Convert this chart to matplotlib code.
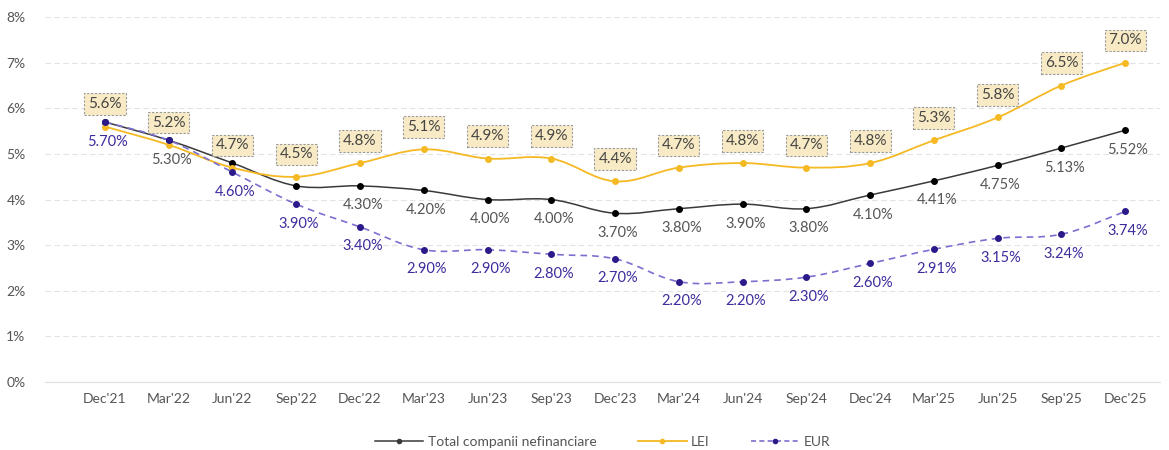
import matplotlib
matplotlib.use("Agg")
import matplotlib.pyplot as plt
from matplotlib.path import Path
from matplotlib.patches import PathPatch
import numpy as np

plt.rcParams["font.family"] = ["Lato", "DejaVu Sans"]

# data
periods = ["Dec'21", "Mar'22", "Jun'22", "Sep'22", "Dec'22", "Mar'23", "Jun'23", "Sep'23",
           "Dec'23", "Mar'24", "Jun'24", "Sep'24", "Dec'24", "Mar'25", "Jun'25", "Sep'25", "Dec'25"]
total = [5.70, 5.30, 4.80, 4.30, 4.30, 4.20, 4.00, 4.00, 3.70, 3.80, 3.90, 3.80, 4.10, 4.41, 4.75, 5.13, 5.52]
lei = [5.6, 5.2, 4.7, 4.5, 4.8, 5.1, 4.9, 4.9, 4.4, 4.7, 4.8, 4.7, 4.8, 5.3, 5.8, 6.5, 7.0]
eur = [5.70, 5.30, 4.60, 3.90, 3.40, 2.90, 2.90, 2.80, 2.70, 2.20, 2.20, 2.30, 2.60, 2.91, 3.15, 3.24, 3.74]
# which labels are visible in the reference
total_shown = [False, True, False, False] + [True] * 13
eur_shown = [True, False] + [True] * 15

C_TOTAL = "#3a3a3a"
C_LEI = "#f5b924"
C_EUR_LINE = "#7b6fd0"
C_EUR = "#2a1a8a"
TXT = "#555555"


def smooth_path(x, y, t=0.18):
    # catmull-rom style bezier through the data points (drawing only)
    x = np.asarray(x, float)
    y = np.asarray(y, float)
    verts = [(x[0], y[0])]
    codes = [Path.MOVETO]
    n = len(x)
    for i in range(n - 1):
        p0 = i - 1 if i > 0 else i
        p3 = i + 2 if i + 2 < n else i + 1
        c1 = (x[i] + (x[i + 1] - x[p0]) * t, y[i] + (y[i + 1] - y[p0]) * t)
        c2 = (x[i + 1] - (x[p3] - x[i]) * t, y[i + 1] - (y[p3] - y[i]) * t)
        verts += [c1, c2, (x[i + 1], y[i + 1])]
        codes += [Path.CURVE4] * 3
    return Path(verts, codes)


fig = plt.figure(figsize=(11.69, 4.5), dpi=100)
ax = fig.add_axes([0.0385, 0.151, 0.954, 0.811])

xs = np.arange(len(periods))

ax.add_patch(PathPatch(smooth_path(xs, total), fill=False, ec=C_TOTAL, lw=1.1, zorder=3))
ax.add_patch(PathPatch(smooth_path(xs, lei), fill=False, ec=C_LEI, lw=1.3, zorder=3))
ax.add_patch(PathPatch(smooth_path(xs, eur), fill=False, ec=C_EUR_LINE, lw=1.2,
                       ls=(0, (4, 3)), zorder=3))
ax.plot(xs, total, ls="none", marker="o", ms=4, color="black", zorder=4)
ax.plot(xs, lei, ls="none", marker="o", ms=4, color=C_LEI, zorder=4)
ax.plot(xs, eur, ls="none", marker="o", ms=4, color=C_EUR, zorder=4)

# legend handles
ax.plot([], [], color=C_TOTAL, marker="o", ms=3, lw=1.1, label="Total companii nefinanciare")
ax.plot([], [], color=C_LEI, marker="o", ms=3, lw=1.3, label="LEI")
ax.plot([], [], color=C_EUR_LINE, marker="o", ms=3, mfc=C_EUR, mec=C_EUR, lw=1.2,
        ls=(0, (3, 2)), label="EUR")

for i in xs:
    ax.annotate(f"{lei[i]:.1f}%", (i, lei[i]), xytext=(0, 11), textcoords="offset points",
                ha="center", va="bottom", fontsize=11, color="#444444",
                bbox=dict(boxstyle="square,pad=0.25", fc="#f8eac4", ec="#999999",
                          ls=(0, (2, 1.5)), lw=0.8), zorder=5)
    if total_shown[i]:
        ax.annotate(f"{total[i]:.2f}%", (i, total[i]), xytext=(2, -9), textcoords="offset points",
                    ha="center", va="top", fontsize=10.5, color=TXT, zorder=5)
    if eur_shown[i]:
        ax.annotate(f"{eur[i]:.2f}%", (i, eur[i]), xytext=(2, -9), textcoords="offset points",
                    ha="center", va="top", fontsize=10.5, color="#3b2c9c", zorder=5)

ax.set_xlim(-0.94, 16.55)
ax.set_ylim(0, 8)
ax.set_yticks(range(0, 9))
ax.set_yticklabels([f"{v}%" for v in range(0, 9)])
ax.set_xticks(xs)
ax.set_xticklabels(periods)
ax.tick_params(length=0, labelsize=10, colors=TXT, pad=8)
ax.tick_params(axis="y", pad=14)
ax.grid(axis="y", color="#e3e3e3", ls=(0, (5, 3)), lw=0.8)
for s in ax.spines.values():
    s.set_visible(False)
ax.spines["bottom"].set_visible(True)
ax.spines["bottom"].set_color("#e0e0e0")

ax.legend(loc="lower center", bbox_to_anchor=(0.5, -0.215), ncol=3, frameon=False,
          fontsize=10, labelcolor=TXT, handlelength=3.5, columnspacing=3, handletextpad=0.3)

fig.savefig("out.png", dpi=100)
